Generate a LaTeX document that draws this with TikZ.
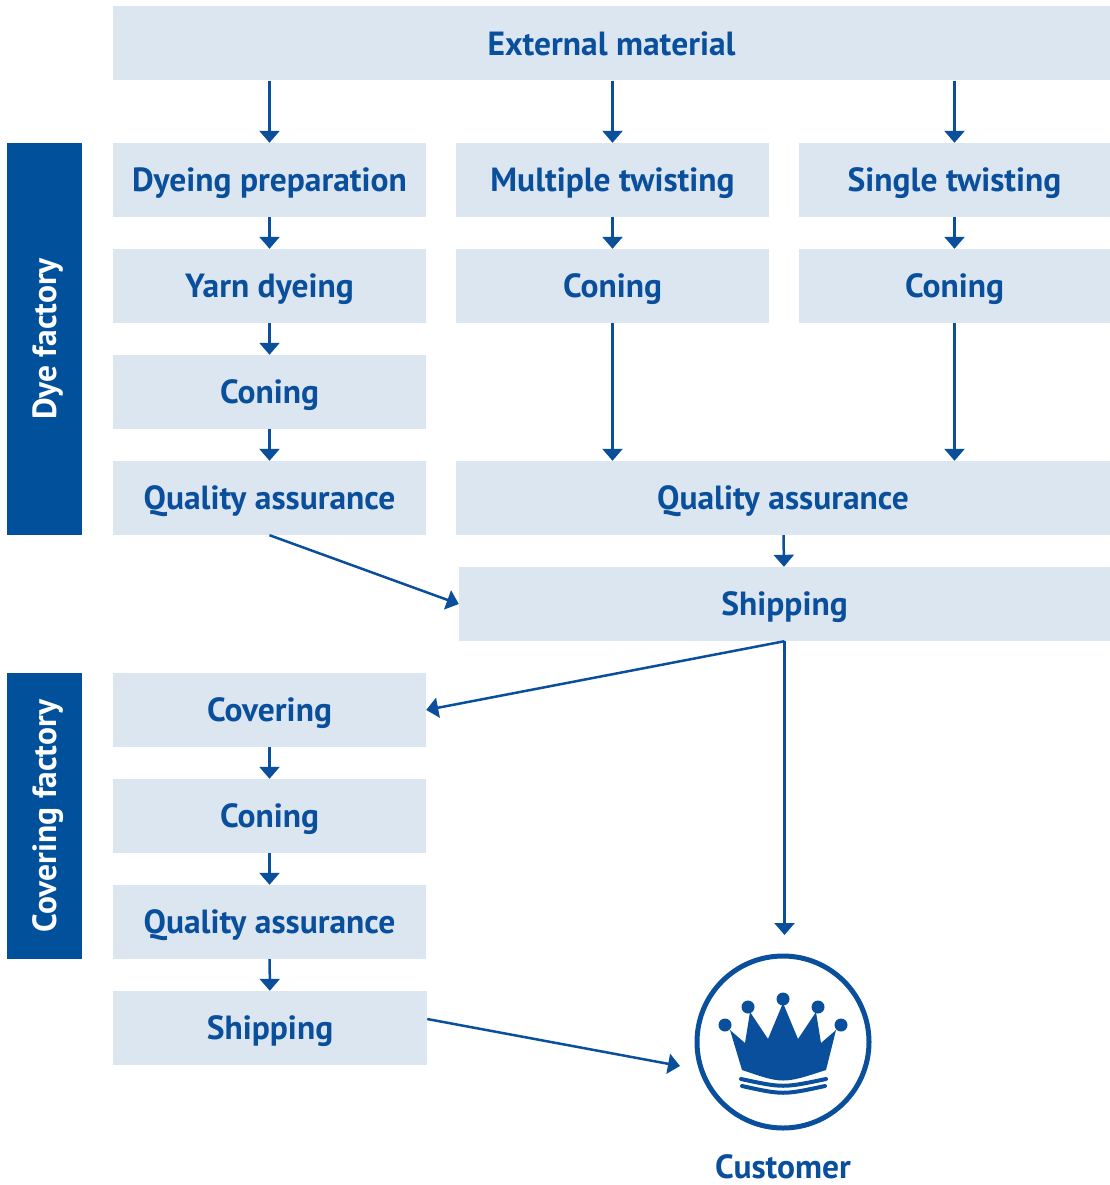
\documentclass[tikz,border=0pt]{standalone}
\usepackage{fontspec}
\setmainfont{PT Sans}
\usetikzlibrary{arrows.meta}

\definecolor{stepfill}{HTML}{DCE6F1}
\definecolor{stepblue}{HTML}{0A4F9C}
\definecolor{barblue}{HTML}{00509B}

\tikzset{
    stepbox/.style={fill=stepfill, text=stepblue, inner sep=0pt,
        minimum width=313pt, minimum height=74pt,
        text height=23.5pt, text depth=0pt,
        font=\fontsize{33.5}{38}\selectfont\bfseries},
    sidebar/.style={fill=barblue, text=white, inner sep=0pt,
        minimum height=75pt, text height=23.5pt, text depth=0pt,
        font=\fontsize{33.5}{38}\selectfont\bfseries},
    flow/.style={draw=stepblue, line width=2.5pt,
        -{Triangle[length=12pt,width=20pt]}},
}

\begin{document}
\begin{tikzpicture}[x=1pt, y=-1pt]
    \useasboundingbox (0,0) rectangle (1110,1185);

    % top
    \node[stepbox, minimum width=997pt] (ext) at (611.5,43.5) {External material};

    % dye factory column
    \node[stepbox] (dp)  at (269.5,180) {Dyeing preparation};
    \node[stepbox] (yd)  at (269.5,286) {Yarn dyeing};
    \node[stepbox] (cl)  at (269.5,392) {Coning};
    \node[stepbox] (qal) at (269.5,498) {Quality assurance};

    % twisting columns
    \node[stepbox] (mt)  at (612.5,180) {Multiple twisting};
    \node[stepbox] (cm)  at (612.5,286) {Coning};
    \node[stepbox, minimum width=311pt] (st) at (954.5,180) {Single twisting};
    \node[stepbox, minimum width=311pt] (cs) at (954.5,286) {Coning};
    \node[stepbox, minimum width=654pt] (qar) at (783,498) {Quality assurance};
    \node[stepbox, minimum width=651pt] (ship) at (784.5,604) {Shipping};

    % covering factory column
    \node[stepbox] (cov)   at (269.5,710) {Covering};
    \node[stepbox] (cc)    at (269.5,816) {Coning};
    \node[stepbox] (qac)   at (269.5,922) {Quality assurance};
    \node[stepbox, minimum width=314pt] (ship2) at (270,1028) {Shipping};

    % side bars
    \node[sidebar, minimum width=392pt, rotate=90] (dyef) at (44.5,339) {Dye factory};
    \node[sidebar, minimum width=286pt, rotate=90] (covf) at (44.5,816) {Covering factory};

    % customer
    \node[circle, draw=stepblue, line width=5pt, minimum size=172pt] (cust) at (783,1042) {};
    \node[text=stepblue, anchor=base, inner sep=0pt,
        font=\fontsize{33.5}{38}\selectfont\bfseries] (custlabel) at (783,1178) {Customer};
    \fill[stepblue] (730,1030) -- (745,1043) -- (750,1012) -- (768,1039) -- (783,1003)
        -- (798,1039) -- (816,1012) -- (821,1043) -- (836,1030) -- (826,1070)
        .. controls (783,1084) .. (742,1070) -- cycle;
    \foreach \bx/\by in {725/1025, 748/1007, 783/999, 818/1007, 841/1025}
        \fill[stepblue] (\bx,\by) circle (6.5);
    \draw[stepblue, line width=4pt, line cap=round] (741,1079) .. controls (783,1088) .. (826,1079);
    \draw[stepblue, line width=4pt, line cap=round] (742,1086) .. controls (783,1095) .. (825,1086);

    \coordinate (custtop) at (786,935);
    \coordinate (custwest) at (680,1066);

    % connectors
    \foreach \col in {dp, mt, st}
        \draw[flow] (ext.south -| \col.north) -- (\col.north);
    \draw[flow] (dp) -- (yd);
    \draw[flow] (yd) -- (cl);
    \draw[flow] (cl) -- (qal);
    \draw[flow] (mt) -- (cm);
    \draw[flow] (st) -- (cs);
    \draw[flow] (cm.south) -- (cm.south |- qar.north);
    \draw[flow] (cs.south) -- (cs.south |- qar.north);
    \draw[flow] (qar) -- (ship);
    \draw[flow] (qal.south) -- (ship.west);
    \draw[flow] (ship.south) -- (cov.east);
    \draw[flow] (ship.south) -- (ship.south |- custtop);
    \draw[flow] (cov) -- (cc);
    \draw[flow] (cc) -- (qac);
    \draw[flow] (qac) -- (ship2);
    \draw[flow] ([yshift=9pt]ship2.east) -- (custwest);
\end{tikzpicture}
\end{document}
